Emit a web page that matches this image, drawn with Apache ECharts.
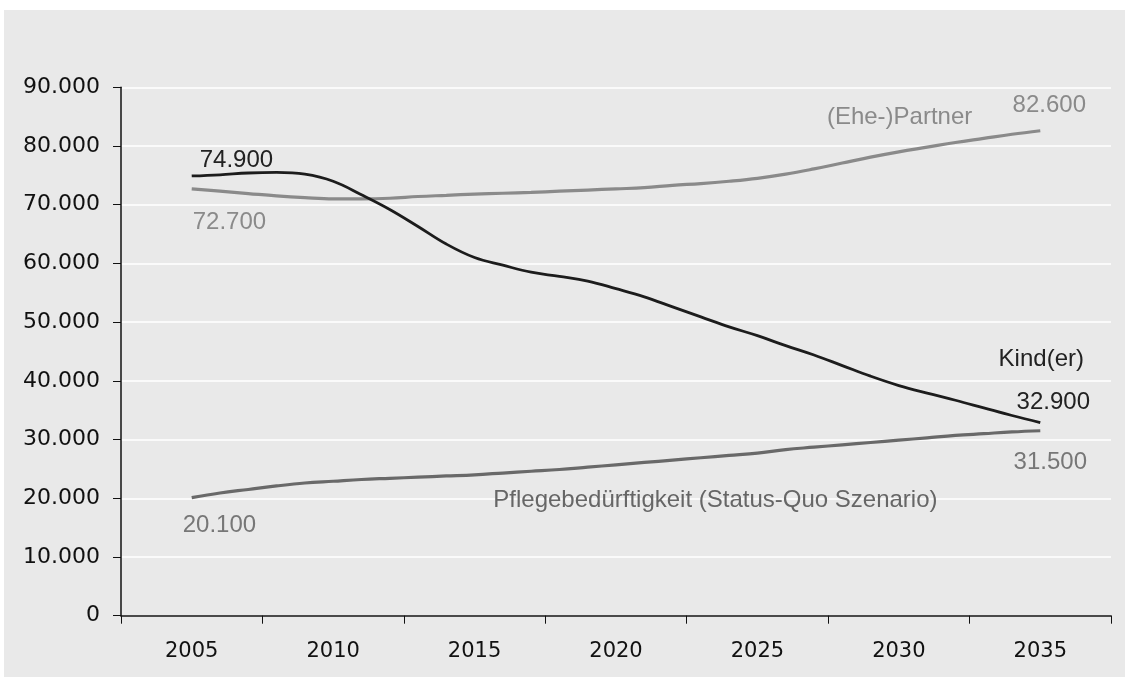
<!DOCTYPE html>
<html>
<head>
<meta charset="utf-8">
<script src="https://cdn.jsdelivr.net/npm/echarts@6/dist/echarts.min.js"></script>
<style>
html,body{margin:0;padding:0;background:#fff;}
#bg{position:absolute;left:4px;top:10px;width:1121px;height:667px;background:#e9e9e9;}
#c{position:absolute;left:0;top:0;width:1125px;height:677px;}
</style>
</head>
<body>
<div id="bg"></div>
<div id="c"></div>
<script>
// Category tick labels
const categories = ['2005','2010','2015','2020','2025','2030','2035'];
// Years of the yearly series values
const years = [2005,2006,2007,2008,2009,2010,2011,2012,2013,2014,2015,2016,2017,2018,2019,2020,
               2021,2022,2023,2024,2025,2026,2027,2028,2029,2030,2031,2032,2033,2034,2035];
const kinder = [74900,75100,75400,75500,75200,74000,71700,69200,66300,63300,61000,59700,58500,57800,57000,55700,
                54300,52600,50900,49200,47700,46000,44400,42600,40800,39200,37900,36700,35400,34100,32900];
const partner = [72700,72300,71900,71500,71200,71000,71000,71100,71400,71600,71800,71950,72100,72300,72500,72700,
                 72900,73300,73600,74000,74500,75200,76100,77100,78100,79000,79800,80600,81300,82000,82600];
const pflege = [20100,20900,21500,22100,22600,22900,23200,23400,23600,23800,24000,24300,24600,24900,25300,25700,
                26100,26500,26900,27300,27700,28300,28700,29100,29500,29900,30300,30700,31000,31300,31500];
const yTicks = [0,10000,20000,30000,40000,50000,60000,70000,80000,90000];

function fmt(v){ return String(v).replace(/\B(?=(\d{3})+(?!\d))/g,'.'); }
function pairs(arr){ return years.map((y,i)=>[y,arr[i]]); }

const chart = echarts.init(document.getElementById('c'), null, {renderer:'canvas'});
const option = {
  backgroundColor:'transparent',
  animation:false,
  grid:{left:121,right:14,top:87.3,bottom:61.3},
  xAxis:[{
    type:'category', data:categories, boundaryGap:true,
    axisLine:{lineStyle:{color:'#111',width:1.5}},
    axisTick:{show:true,length:8,lineStyle:{color:'#111'}},
    axisLabel:{color:'#111',fontFamily:'DejaVu Sans',fontSize:21,margin:25},
    splitLine:{show:false}
  },{
    type:'value', min:2002.5, max:2037.5, show:false
  }],
  yAxis:{
    type:'value', min:yTicks[0], max:yTicks[yTicks.length-1], interval:10000,
    axisLine:{show:true,lineStyle:{color:'#111',width:1.5}},
    axisTick:{show:true,length:8,lineStyle:{color:'#111'}},
    axisLabel:{color:'#111',fontFamily:'DejaVu Sans',fontSize:22,margin:21,formatter:v=>fmt(v)},
    splitLine:{show:true,lineStyle:{color:'#ffffff',width:1.5}}
  },
  series:[
    {name:'Pflegebedürftigkeit (Status-Quo Szenario)',type:'line',xAxisIndex:1,data:pairs(pflege),smooth:0.4,showSymbol:false,
     lineStyle:{color:'#696969',width:3.2},z:3},
    {name:'(Ehe-)Partner',type:'line',xAxisIndex:1,data:pairs(partner),smooth:0.4,showSymbol:false,
     lineStyle:{color:'#8a8a8a',width:3.2},z:3},
    {name:'Kind(er)',type:'line',xAxisIndex:1,data:pairs(kinder),smooth:0.4,showSymbol:false,
     lineStyle:{color:'#1c1c1c',width:2.8},z:4}
  ]
};
chart.setOption(option);

// annotations anchored to data points via the chart's scales
const last = years.length-1;
const ann = [
  {t:fmt(kinder[0]), y:years[0], v:kinder[0], dx:8, dy:-16, align:'left', c:'#222'},
  {t:fmt(partner[0]), y:years[0], v:partner[0], dx:1, dy:34, align:'left', c:'#8a8a8a'},
  {t:fmt(pflege[0]), y:years[0], v:pflege[0], dx:-9, dy:28, align:'left', c:'#777'},
  {t:fmt(partner[last]), y:years[last], v:partner[last], dx:9, dy:-25, align:'center', c:'#8a8a8a'},
  {t:'(Ehe-)Partner', y:years[last], v:partner[last], dx:-68, dy:-13, align:'right', c:'#8a8a8a'},
  {t:'Kind(er)', y:years[last], v:kinder[last], dx:1, dy:-63, align:'center', c:'#222'},
  {t:fmt(kinder[last]), y:years[last], v:kinder[last], dx:13, dy:-20, align:'center', c:'#222'},
  {t:fmt(pflege[last]), y:years[last], v:pflege[last], dx:10, dy:32, align:'center', c:'#777'},
  {t:'Pflegebedürftigkeit (Status-Quo Szenario)', y:years[last], v:pflege[last], dx:-547, dy:70, align:'left', c:'#666'}
];
const g = ann.map(a=>{
  const p = chart.convertToPixel({xAxisIndex:1,yAxisIndex:0},[a.y,a.v]);
  return {type:'text', x:p[0]+a.dx, y:p[1]+a.dy, z:10,
          style:{text:a.t, fill:a.c, font:'24px "Liberation Sans", Arial, sans-serif',
                 textAlign:a.align, textVerticalAlign:'middle'}};
});
chart.setOption({graphic:g});
</script>
</body>
</html>
